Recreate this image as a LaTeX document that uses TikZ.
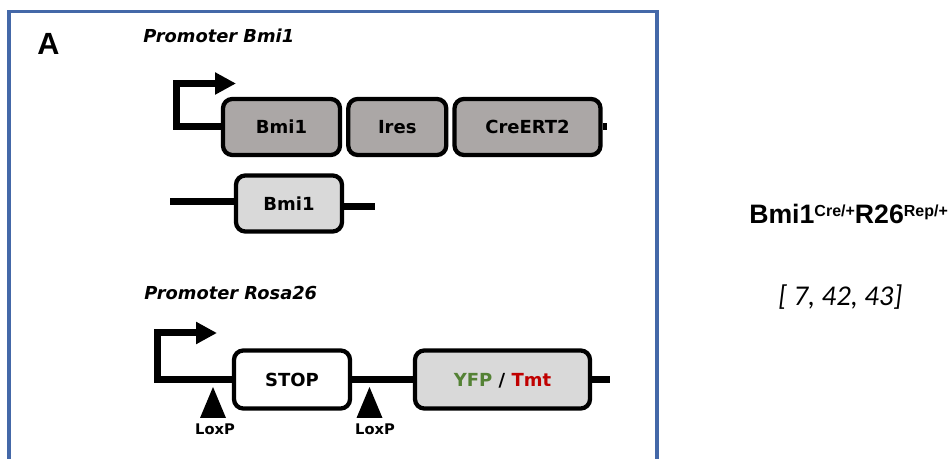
\documentclass[tikz,border=0pt]{standalone}
\usepackage{fontspec}
\setmainfont{DejaVu Sans}
\newfontfamily\arialbf{Liberation Sans}
\newfontfamily\calibri{Carlito}
\usepackage{xcolor}
\usetikzlibrary{arrows.meta, positioning}

\definecolor{framebl}{RGB}{68,104,168}
\definecolor{exdark}{RGB}{171,167,166}
\definecolor{exlight}{RGB}{217,217,217}
\definecolor{yfpgreen}{RGB}{84,130,53}
\definecolor{tmtred}{RGB}{192,0,0}

\begin{document}
\begin{tikzpicture}[x=0.75pt, y=-0.75pt,
    exon/.style={draw=black, line width=3.2pt, rounded corners=7pt, inner sep=0pt,
      minimum height=42pt, text depth=0pt, font=\bfseries\fontsize{13.5}{16}\selectfont},
    dna/.style={line width=5.25pt},
    promo/.style={line width=5.25pt, line join=miter, -{Triangle[length=15.75pt, width=15.75pt]}},
    loxp/.style={font=\bfseries\fontsize{11}{13}\selectfont, inner sep=0pt, anchor=base},
    title/.style={font=\bfseries\itshape\fontsize{13.4}{16}\selectfont, inner sep=0pt, anchor=base west}]
  \useasboundingbox (0,0) rectangle (950,459);
  \draw[framebl, line width=2.3pt, line join=miter] (9,470) -- (9,11.5) -- (657,11.5) -- (657,470);

  \node[font=\arialbf\bfseries\fontsize{23}{26}\selectfont, inner sep=0pt] (panel) at (48.5,44) {A};
  \node[title] (promA) at (143,43) {Promoter Bmi1};
  \node[title] (promB) at (144,300) {Promoter Rosa26};

  % Bmi1-Ires-CreERT2 allele
  \coordinate (tssA) at (176,127);
  \coordinate (tipA) at (236,83.5);
  \coordinate (endA) at (607,127);
  \node[exon, fill=exdark, minimum width=87.75pt] (bmiA) at (281.5,127) {Bmi1};
  \node[exon, fill=exdark, minimum width=73.5pt, right=3pt of bmiA] (ires) {Ires};
  \node[exon, fill=exdark, minimum width=109.5pt, right=3pt of ires] (cre) {CreERT2};
  \draw[promo] (bmiA.west) -- (tssA) |- (tipA);
  \draw[dna] (cre.east) -- (endA);

  % wild type Bmi1
  \coordinate (wtL) at (170,201.5);
  \coordinate (wtR) at (375,206.5);
  \node[exon, fill=exlight, minimum width=79.5pt] (bmiB) at (289,203.5) {Bmi1};
  \draw[dna] (wtL) -- (wtL -| bmiB.west);
  \draw[dna] (wtR -| bmiB.east) -- (wtR);

  % Rosa26 reporter
  \coordinate (tssB) at (157,379.5);
  \coordinate (tipB) at (217,333);
  \coordinate (endB) at (610,379.5);
  \node[exon, fill=white, minimum width=87pt, minimum height=43.5pt] (stop) at (292,379.5) {STOP};
  \node[exon, fill=exlight, minimum width=131.25pt, minimum height=43.5pt] (rep) at (502.5,379.5)
    {\textcolor{yfpgreen}{YFP} / \textcolor{tmtred}{Tmt}};
  \draw[promo] (stop.west) -- (tssB) |- (tipB);
  \draw[dna] (stop.east) -- (rep.west);
  \draw[dna] (rep.east) -- (endB);

  \coordinate (loxA) at (213,418);
  \coordinate (loxB) at (369.5,418);
  \fill (loxA) ++(-13,0) -- ++(26,0) -- ++(-13,-31) -- cycle;
  \fill (loxB) ++(-13,0) -- ++(26,0) -- ++(-13,-31) -- cycle;
  \node[loxp] (loxAlbl) at (215,435) {LoxP};
  \node[loxp] (loxBlbl) at (375,435) {LoxP};

  \node[font=\arialbf\bfseries\fontsize{20}{24}\selectfont, inner sep=0pt, anchor=base west] (geno) at (749,224)
    {Bmi1\raisebox{5.7pt}{\fontsize{12}{14}\selectfont Cre/+}R26\raisebox{5.7pt}{\fontsize{12}{14}\selectfont Rep/+}};
  \node[font=\calibri\itshape\fontsize{21.5}{26}\selectfont, inner sep=0pt, anchor=base west] (refs) at (778,306) {[ 7, 42, 43]};
\end{tikzpicture}
\end{document}
